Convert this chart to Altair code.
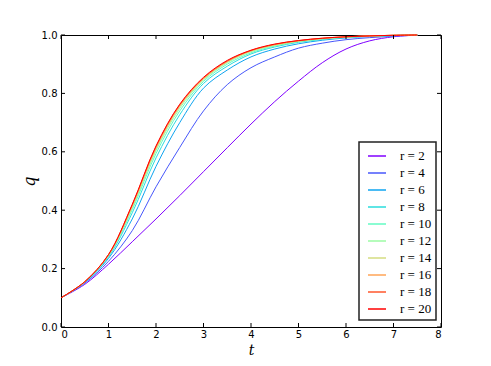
import altair as alt
import pandas as pd

# time samples
t = [0, 0.5, 1, 1.5, 2, 2.5, 3, 3.5, 4, 4.5, 5, 5.5, 6, 6.5, 7, 7.5]

q_r2 = [0.100, 0.146, 0.215, 0.292, 0.370, 0.450, 0.532, 0.614, 0.695, 0.772, 0.842, 0.905, 0.952, 0.980, 0.994, 1.000]
q_r4 = [0.100, 0.150, 0.225, 0.330, 0.480, 0.615, 0.740, 0.830, 0.888, 0.925, 0.955, 0.972, 0.984, 0.991, 0.996, 0.999]
q_r6 = [0.100, 0.152, 0.235, 0.370, 0.550, 0.700, 0.818, 0.880, 0.925, 0.952, 0.970, 0.982, 0.990, 0.995, 0.998, 1.000]
q_r8 = [0.100, 0.153, 0.240, 0.391, 0.579, 0.727, 0.834, 0.893, 0.935, 0.959, 0.975, 0.985, 0.992, 0.996, 0.998, 1.000]
q_r10 = [0.100, 0.154, 0.243, 0.402, 0.594, 0.740, 0.841, 0.900, 0.939, 0.962, 0.977, 0.986, 0.992, 0.996, 0.998, 1.000]
q_r12 = [0.100, 0.154, 0.245, 0.408, 0.604, 0.749, 0.846, 0.905, 0.943, 0.964, 0.978, 0.987, 0.993, 0.997, 0.999, 1.000]
q_r14 = [0.100, 0.155, 0.246, 0.413, 0.610, 0.755, 0.849, 0.908, 0.945, 0.966, 0.979, 0.988, 0.993, 0.997, 0.999, 1.000]
q_r16 = [0.100, 0.155, 0.247, 0.416, 0.614, 0.758, 0.851, 0.909, 0.946, 0.967, 0.980, 0.988, 0.994, 0.997, 0.999, 1.000]
q_r18 = [0.100, 0.155, 0.248, 0.418, 0.618, 0.761, 0.853, 0.911, 0.947, 0.968, 0.981, 0.989, 0.994, 0.997, 0.999, 1.000]
q_r20 = [0.100, 0.155, 0.248, 0.420, 0.620, 0.763, 0.855, 0.913, 0.948, 0.969, 0.981, 0.989, 0.994, 0.997, 0.999, 1.000]

r_values = [2, 4, 6, 8, 10, 12, 14, 16, 18, 20]
series = [q_r2, q_r4, q_r6, q_r8, q_r10, q_r12, q_r14, q_r16, q_r18, q_r20]
colors = ["#8000ff", "#4757fb", "#0ea4f0", "#2adddd", "#63fbc3",
          "#9cfba4", "#d4dd80", "#ffa457", "#ff572c", "#ff0000"]

x_ticks = [0, 1, 2, 3, 4, 5, 6, 7, 8]
y_ticks = [0.0, 0.2, 0.4, 0.6, 0.8, 1.0]

labels = [f"r = {r}" for r in r_values]
rows = []
for r, lab, qs in zip(r_values, labels, series):
    for ti, qi in zip(t, qs):
        rows.append({"t": ti, "q": qi, "r": lab, "rk": r})
df = pd.DataFrame(rows)

W, H = 380, 292
x_scale = alt.Scale(domain=[0, 8], nice=False, zero=False)
y_scale = alt.Scale(domain=[0, 1], nice=False, zero=False)
x_axis = alt.Axis(values=x_ticks, format="d", labelPadding=2,
                  titleY=27.5, titleBaseline="alphabetic", titleFontSize=14)
y_axis = alt.Axis(values=y_ticks, format=".1f", titlePadding=4)

lines = alt.Chart(df).mark_line(strokeWidth=1, interpolate="catmull-rom").encode(
    x=alt.X("t:Q", scale=x_scale, title="t", axis=x_axis),
    y=alt.Y("q:Q", scale=y_scale, title="q", axis=y_axis),
    color=alt.Color("r:N", sort=labels,
                    scale=alt.Scale(domain=labels, range=colors),
                    legend=alt.Legend(title=None, orient="none", legendX=298, legendY=107,
                                      symbolType="stroke", symbolSize=324,
                                      symbolStrokeWidth=1.5, symbolOffset=4,
                                      labelOffset=13,
                                      padding=4, rowPadding=0,
                                      strokeColor="#222222", fillColor="white",
                                      cornerRadius=0)),
    order=alt.Order("t:Q"),
)

xt_df = pd.DataFrame({"t": x_ticks})
yt_df = pd.DataFrame({"q": y_ticks})

xt_bottom = alt.Chart(xt_df).mark_rule(color="black", strokeWidth=1).encode(
    x=alt.X("t:Q", scale=x_scale, title="t", axis=x_axis), y=alt.value(H - 4), y2=alt.value(H))
xt_top = alt.Chart(xt_df).mark_rule(color="black", strokeWidth=1).encode(
    x=alt.X("t:Q", scale=x_scale, title="t", axis=x_axis), y=alt.value(0), y2=alt.value(4))
yt_left = alt.Chart(yt_df).mark_rule(color="black", strokeWidth=1).encode(
    y=alt.Y("q:Q", scale=y_scale, title="q", axis=y_axis), x=alt.value(0), x2=alt.value(4))
yt_right = alt.Chart(yt_df).mark_rule(color="black", strokeWidth=1).encode(
    y=alt.Y("q:Q", scale=y_scale, title="q", axis=y_axis), x=alt.value(W - 4), x2=alt.value(W))

chart = alt.layer(lines, xt_bottom, xt_top, yt_left, yt_right).properties(
    width=W, height=H,
    autosize=alt.AutoSizeParams(type="none"),
    padding={"left": 53, "top": 27, "right": 42, "bottom": 31},
).configure_view(
    stroke="black", strokeWidth=1
).configure_axis(
    domain=False, grid=False, ticks=False, tickSize=0,
    labelFont="DejaVu Sans", labelFontSize=10, labelColor="black", labelPadding=4,
    titleFont="DejaVu Serif", titleFontStyle="italic", titleFontSize=16,
    titleFontWeight="normal", titleColor="black",
).configure_legend(
    labelFont="Liberation Serif", labelFontSize=13, labelColor="black", strokeWidth=1.5,
)

chart.save("out.html", embed_options={"renderer": "svg", "actions": False})
